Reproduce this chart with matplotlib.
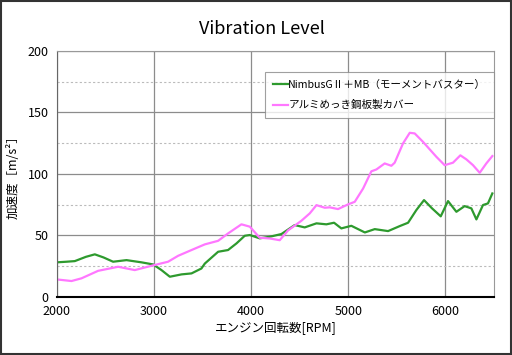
import matplotlib
matplotlib.use('Agg')
import matplotlib.pyplot as plt
from matplotlib.patches import Rectangle
from matplotlib.ticker import MultipleLocator

plt.rcParams['font.family'] = ['Noto Sans CJK JP', 'DejaVu Sans']

# NimbusG II + MB
rpm_green = [2000, 2100, 2185, 2300, 2391, 2480, 2579, 2717, 2871, 2991,
             3077, 3163, 3283, 3386, 3488, 3523, 3660, 3762, 3849, 3934,
             3986, 4088, 4191, 4311, 4448, 4551, 4672, 4774, 4853, 4928,
             5031, 5170, 5272, 5409, 5530, 5615, 5700, 5779, 5860, 5951,
             6026, 6112, 6197, 6266, 6318, 6386, 6437, 6482]
acc_green = [28, 28.5, 29, 32.5, 34.5, 32, 28.5, 29.8, 28, 26.3,
             21.7, 16.3, 18.2, 19, 23, 27, 36.6, 38, 43.4, 49.6,
             50.2, 47.5, 48.8, 51, 58.3, 56.4, 59.7, 58.9, 60.2, 55.6,
             57.7, 52.3, 55, 53.4, 57.5, 60.2, 70.5, 78.6, 72, 65.4,
             77.8, 69.1, 73.7, 71.9, 62.9, 74.6, 75.9, 84]

# aluminium plated steel cover
rpm_pink = [2000, 2151, 2254, 2425, 2631, 2802, 2974, 3145, 3248, 3386,
            3523, 3660, 3762, 3900, 3986, 4088, 4191, 4294, 4380, 4517,
            4603, 4672, 4757, 4809, 4894, 4997, 5066, 5152, 5237, 5289,
            5374, 5443, 5477, 5563, 5632, 5683, 5768, 5906, 5991, 6077,
            6153, 6215, 6283, 6352, 6420, 6482]
acc_pink = [14.1, 12.8, 15, 21.1, 24.4, 21.7, 25.2, 28.5, 33.3, 38,
            42.6, 45.5, 51.5, 58.9, 57, 48, 47.4, 46, 54, 61.8,
            67.8, 74.5, 72.4, 72.7, 71.3, 75.1, 77.2, 88, 102, 103.5,
            108.4, 106.5, 109, 124.7, 133.3, 132.8, 126, 113.8, 107, 109,
            115, 111.7, 107, 100.8, 108.4, 114.4]

labels = ['NimbusGⅡ＋MB（モーメントバスター）', 'アルミめっき鋼板製カバー']

fig = plt.figure(figsize=(5.12, 3.55), dpi=100)
ax = fig.add_axes([0.111, 0.164, 0.854, 0.693])

ax.plot(rpm_green, acc_green, color='#2e9a2e', lw=1.6, label=labels[0])
ax.plot(rpm_pink, acc_pink, color='#ff77ff', lw=1.6, label=labels[1])

ax.set_xlim(2000, 6500)
ax.set_ylim(0, 200)
ax.xaxis.set_major_locator(MultipleLocator(1000))
ax.yaxis.set_major_locator(MultipleLocator(50))
ax.yaxis.set_minor_locator(MultipleLocator(25))
ax.grid(which='major', color='#8c8c8c', lw=0.9)
ax.grid(which='minor', axis='y', color='#bbbbbb', lw=0.8, ls=(0, (2, 2)))
ax.set_axisbelow(True)
ax.tick_params(which='both', length=0, labelsize=9, pad=6)

for side in ['top', 'right']:
    ax.spines[side].set_color('#999999')
ax.spines['left'].set_color('#666666')
ax.spines['bottom'].set_color('#000000')
ax.spines['bottom'].set_linewidth(1.5)

fig.text(262 / 512, 1 - 29 / 355, 'Vibration Level', fontsize=13,
         ha='center', va='center')
ax.set_xlabel('エンジン回転数[RPM]', fontsize=9, labelpad=2)
ax.set_ylabel('加速度［m/s²］', fontsize=9, labelpad=6)

leg = ax.legend(loc='upper right', bbox_to_anchor=(1.0, 0.915), fontsize=7.6,
                frameon=True, fancybox=False, handlelength=1.4, handletextpad=0.05,
                borderpad=0.75, labelspacing=1.0, borderaxespad=0)
leg.get_frame().set_edgecolor('#888888')
leg.get_frame().set_linewidth(0.8)

fig.patches.append(Rectangle((0.002, 0.003), 0.996, 0.994, transform=fig.transFigure,
                             fill=False, edgecolor='#333333', lw=1.5))

fig.savefig('out.png', dpi=100)
